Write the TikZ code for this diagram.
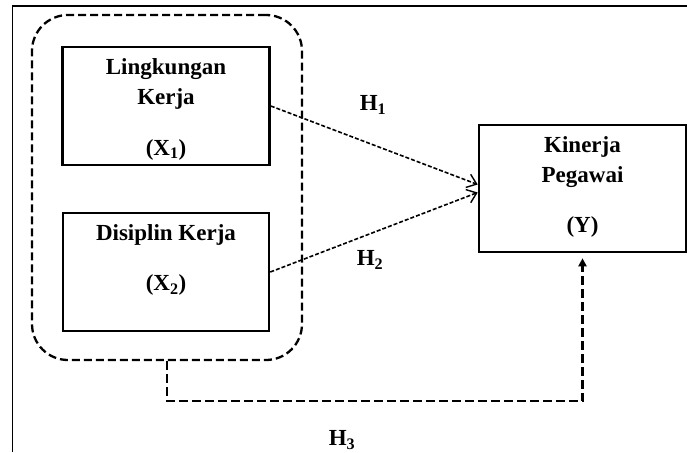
\documentclass[tikz,border=0pt]{standalone}
\usepackage{fontspec}
\setmainfont{Liberation Serif}
\usetikzlibrary{arrows.meta}

\begin{document}
\begin{tikzpicture}[x=1pt,y=-1pt,
	box/.style={draw,line width=2.6pt,minimum width=#1},
	txt/.style={font=\fontsize{23}{30}\selectfont\bfseries,align=center,inner sep=0pt},
	hyp/.style={line width=1.6pt,dash pattern=on 4pt off 2pt,-{Straight Barb[length=9pt,width=14pt,line width=1.4pt]}},
	grpline/.style={line width=2.3pt,dash pattern=on 8pt off 4pt}]

\def\boxW{207}
\def\boxXH{118}
\def\boxYH{127}
\def\colX{166}

\useasboundingbox (0,0) rectangle (687,452);

% frame
\draw [line width=1.6pt] (12.5,452) -- (12.5,6) -- (687,6);

\node [draw,grpline,rounded corners=36pt,minimum width=270pt,minimum height=345pt] (grp) at (167,187.5) {};

\node [box=\boxW pt,minimum height=\boxXH pt] (lk) at (\colX,106) {};
\node [txt] (lkT) at ([yshift=-3pt]lk.center) {Lingkungan\\Kerja\\[21pt](X\textsubscript{1})};

\node [box=206pt,minimum height=\boxXH pt] (dk) at (\colX,272) {};
\node [txt] (dkT) at ([yshift=12pt]dk.center) {Disiplin Kerja\\[20pt](X\textsubscript{2})};

\node [box=\boxW pt,minimum height=\boxYH pt] (ky) at (582.5,188.5) {};
\node [txt] (kyT) at ([yshift=2pt]ky.center) {Kinerja\\Pegawai\\[20pt](Y)};

\draw [hyp] (lk.east) -- ([yshift=4pt]ky.west);
\draw [hyp] (dk.east) -- ([yshift=-4pt]ky.west);

\draw [grpline,dash pattern=on 9pt off 4pt,shorten >=5pt,-{Triangle[length=8pt,width=8pt]}]
	(grp.south) -- ++(0,40) -| (ky.south);

\node [txt] (h1) at (373,105) {H\textsubscript{1}};
\node [txt] (h2) at (370,260) {H\textsubscript{2}};
\node [txt] (h3) at (342,440) {H\textsubscript{3}};

\end{tikzpicture}
\end{document}
